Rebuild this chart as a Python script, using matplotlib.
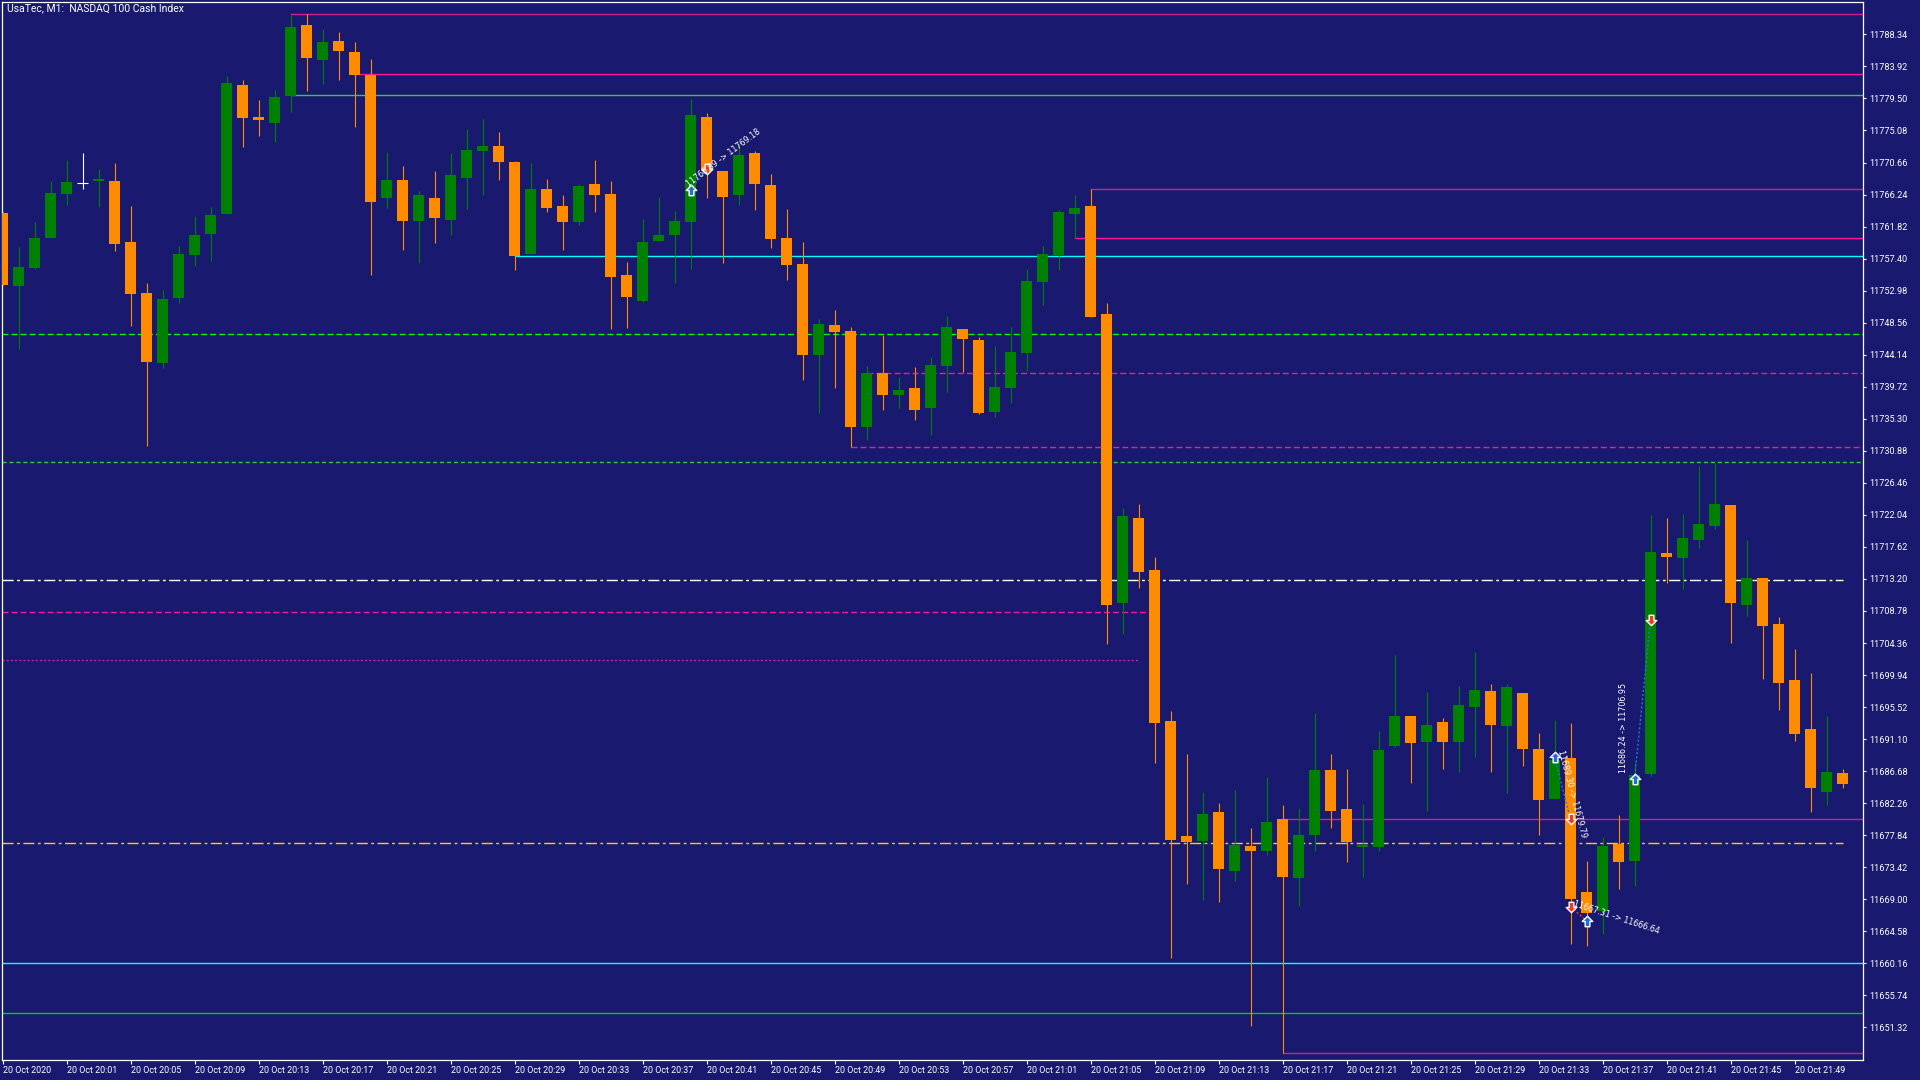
"""MT5 style M1 candlestick chart of the NASDAQ 100 cash index with level lines and trades."""

import numpy as np
import matplotlib
matplotlib.use('Agg')
import matplotlib.pyplot as plt
from matplotlib.path import Path

# Candle data, one minute bars from 19:57 to 21:52
opens = [11763.74, 11753.66, 11756.15, 11760.29, 11766.36, 11767.88, 11768.15, 11768.11, 11759.69, 11752.66,
         11743.00, 11752.01, 11757.90, 11760.84, 11763.60, 11781.36, 11776.94, 11776.12, 11779.88, 11789.64,
         11784.81, 11787.43, 11785.91, 11782.78, 11765.81, 11768.25, 11762.63, 11765.77, 11762.77, 11768.57,
         11772.29, 11772.94, 11770.73, 11758.08, 11767.01, 11764.66, 11762.50, 11767.70, 11766.32, 11755.14,
         11751.59, 11759.87, 11760.70, 11762.50, 11776.94, 11769.49, 11766.22, 11771.98, 11767.56, 11760.25,
         11756.66, 11744.14, 11748.24, 11747.41, 11734.21, 11741.62, 11738.62, 11739.55, 11736.83, 11742.62,
         11747.69, 11746.17, 11736.28, 11739.59, 11744.42, 11754.22, 11757.90, 11763.60, 11764.66, 11749.76,
         11709.94, 11721.62, 11714.43, 11693.58, 11677.71, 11677.02, 11681.02, 11672.93, 11676.33, 11675.69,
         11680.08, 11672.00, 11677.92, 11686.83, 11681.46, 11676.28, 11676.23, 11690.13, 11694.27, 11690.72,
         11693.44, 11690.72, 11695.55, 11697.72, 11692.95, 11697.46, 11689.73, 11682.87, 11688.49, 11669.99,
         11667.42, 11676.62, 11674.32, 11686.32, 11716.78, 11716.13, 11718.61, 11720.55, 11723.40, 11709.64,
         11713.33, 11706.98, 11699.25, 11692.49, 11683.84, 11686.42]
highs = [11763.90, 11759.00, 11762.45, 11768.11, 11771.01, 11771.93, 11769.77, 11770.60, 11764.66, 11754.04,
         11753.07, 11759.14, 11763.28, 11764.52, 11782.60, 11782.05, 11779.29, 11780.67, 11791.02, 11791.12,
         11789.09, 11788.67, 11787.29, 11784.95, 11772.11, 11770.18, 11766.73, 11769.49, 11771.98, 11775.29,
         11776.67, 11774.87, 11770.87, 11770.60, 11768.39, 11766.18, 11767.70, 11771.01, 11768.11, 11756.93,
         11762.87, 11765.90, 11763.97, 11779.43, 11777.50, 11769.49, 11773.26, 11772.25, 11769.08, 11764.25,
         11759.69, 11749.07, 11750.31, 11747.96, 11742.58, 11746.90, 11741.06, 11742.44, 11743.82, 11749.48,
         11747.69, 11746.54, 11745.34, 11747.96, 11755.97, 11759.14, 11764.11, 11766.18, 11766.97, 11751.28,
         11723.05, 11723.55, 11716.21, 11694.96, 11689.05, 11683.78, 11682.29, 11684.07, 11678.89, 11685.85,
         11682.00, 11681.60, 11694.71, 11689.05, 11686.98, 11682.15, 11692.20, 11702.70, 11694.27, 11697.58,
         11694.02, 11698.41, 11703.10, 11698.71, 11698.70, 11697.46, 11691.94, 11693.73, 11693.32, 11674.27,
         11677.58, 11680.62, 11688.00, 11722.02, 11721.61, 11722.16, 11728.78, 11729.20, 11723.40, 11718.57,
         11713.33, 11707.94, 11703.53, 11700.22, 11694.28, 11686.97]
lows = [11753.76, 11744.97, 11755.93, 11760.29, 11764.84, 11767.05, 11764.57, 11758.49, 11748.14, 11731.58,
        11742.35, 11751.32, 11756.42, 11757.11, 11763.60, 11772.85, 11774.36, 11773.54, 11777.68, 11780.57,
        11781.54, 11782.09, 11775.61, 11755.18, 11764.43, 11758.63, 11756.84, 11759.60, 11760.70, 11764.29,
        11766.18, 11768.29, 11755.87, 11758.08, 11763.88, 11758.63, 11762.08, 11763.88, 11747.73, 11747.87,
        11751.46, 11759.87, 11754.08, 11756.01, 11765.81, 11756.84, 11764.84, 11764.15, 11758.91, 11754.49,
        11740.69, 11736.14, 11739.59, 11731.40, 11732.41, 11736.55, 11736.83, 11735.17, 11733.10, 11739.04,
        11741.75, 11736.00, 11735.59, 11737.52, 11741.93, 11751.04, 11755.87, 11760.20, 11749.39, 11704.27,
        11705.61, 11712.01, 11687.86, 11660.95, 11671.15, 11668.95, 11668.64, 11671.55, 11651.54, 11675.10,
        11647.78, 11668.10, 11675.69, 11678.89, 11674.16, 11672.09, 11675.69, 11689.99, 11685.10, 11681.21,
        11687.02, 11686.58, 11688.65, 11686.58, 11683.72, 11687.42, 11677.90, 11682.87, 11662.86, 11662.58,
        11664.24, 11670.45, 11670.86, 11686.05, 11712.68, 11711.85, 11717.51, 11720.13, 11704.40, 11708.12,
        11699.43, 11695.15, 11690.87, 11681.08, 11682.04, 11684.39]
closes = [11753.76, 11756.24, 11760.25, 11766.46, 11767.97, 11767.88, 11768.35, 11759.42, 11752.52, 11743.18,
          11751.83, 11758.04, 11760.66, 11763.42, 11781.64, 11776.85, 11776.57, 11779.70, 11789.36, 11785.13,
          11787.29, 11786.05, 11782.78, 11765.26, 11768.25, 11762.63, 11766.18, 11763.05, 11768.94, 11772.39,
          11772.94, 11770.78, 11757.80, 11767.01, 11764.43, 11762.50, 11767.42, 11766.18, 11754.91, 11752.15,
          11759.69, 11760.66, 11762.59, 11777.22, 11769.53, 11765.95, 11771.70, 11767.74, 11760.15, 11756.56,
          11744.14, 11748.38, 11747.32, 11734.21, 11741.62, 11738.62, 11739.27, 11736.55, 11742.72, 11747.96,
          11746.31, 11736.14, 11739.68, 11744.51, 11754.31, 11758.04, 11763.83, 11764.39, 11749.39, 11709.60,
          11721.87, 11714.18, 11693.33, 11677.23, 11676.92, 11680.77, 11673.22, 11676.48, 11675.69, 11679.64,
          11672.09, 11677.86, 11686.83, 11681.21, 11676.88, 11676.35, 11689.59, 11694.27, 11690.57, 11693.04,
          11690.72, 11695.80, 11697.87, 11693.10, 11698.28, 11689.77, 11682.73, 11688.21, 11669.07, 11667.14,
          11676.34, 11674.18, 11686.14, 11716.91, 11716.27, 11718.85, 11720.78, 11723.54, 11709.92, 11713.33,
          11706.74, 11698.88, 11691.84, 11684.39, 11686.55, 11684.94]

# Time axis labels, one every 4 bars
time_labels = ['20 Oct 2020', '20 Oct 20:01', '20 Oct 20:05', '20 Oct 20:09', '20 Oct 20:13', '20 Oct 20:17',
               '20 Oct 20:21', '20 Oct 20:25', '20 Oct 20:29', '20 Oct 20:33', '20 Oct 20:37', '20 Oct 20:41',
               '20 Oct 20:45', '20 Oct 20:49', '20 Oct 20:53', '20 Oct 20:57', '20 Oct 21:01', '20 Oct 21:05',
               '20 Oct 21:09', '20 Oct 21:13', '20 Oct 21:17', '20 Oct 21:21', '20 Oct 21:25', '20 Oct 21:29',
               '20 Oct 21:33', '20 Oct 21:37', '20 Oct 21:41', '20 Oct 21:45', '20 Oct 21:49']
price_ticks = [11651.32, 11655.74, 11660.16, 11664.58, 11669.00, 11673.42, 11677.84, 11682.26, 11686.68,
               11691.10, 11695.52, 11699.94, 11704.36, 11708.78, 11713.20, 11717.62, 11722.04, 11726.46,
               11730.88, 11735.30, 11739.72, 11744.14, 11748.56, 11752.98, 11757.40, 11761.82, 11766.24,
               11770.66, 11775.08, 11779.50, 11783.92, 11788.34]

# Horizontal levels: price, first bar (None = left edge), last bar (None = right edge)
level_prices = [11791.10, 11782.88, 11779.94, 11766.97, 11760.20, 11757.80, 11746.96, 11741.58, 11731.37,
                11729.29, 11713.00, 11708.57, 11701.96, 11680.03, 11676.83, 11660.20, 11653.37, 11647.78]
level_start = [18, 22, 18, 68, 67, 32, None, 54, 53, None, None, None, None, 80, None, None, None, 80]
level_end = [None, None, None, None, None, None, None, None, None, None, 115, 72, 71, None, 115, None, None, None]

# Closed trades: entry bar/price, exit bar/price, comment
trade_bars = [(43, 44), (97, 98), (98, 99), (102, 103)]
trade_prices = [(11766.87, 11769.81), (11688.59, 11680.03), (11667.98, 11666.04), (11685.59, 11707.53)]
trade_side = ['buy', 'buy', 'sell', 'buy']
trade_text = ['11766.89 -> 11769.18', '11689.30 -> 11679.79', '11667.31 -> 11666.64', '11686.24 -> 11706.95']

BG = '#191970'
BULL = '#008000'
BEAR = '#FF8C00'
PINK = '#FF1493'
VIOLET = '#D02090'

level_styles = [
    dict(color=VIOLET, ls='-'), dict(color=PINK, ls='-'), dict(color='#32CD32', ls='-'),
    dict(color=VIOLET, ls='-'), dict(color=PINK, ls='-'), dict(color='#00FFFF', ls='-'),
    dict(color='#00FF00', ls=(0, (4.3, 2.2))), dict(color=PINK, ls=(0, (4.3, 2.2))),
    dict(color=PINK, ls=(0, (4.3, 2.2))), dict(color='#32CD32', ls=(0, (3, 2))),
    dict(color='white', ls=(0, (8, 2.5, 2, 2.5))), dict(color=PINK, ls=(0, (4.3, 2.2))),
    dict(color=VIOLET, ls=(0, (1.5, 1.5))), dict(color=VIOLET, ls='-'),
    dict(color='#FFCC00', ls=(0, (8, 2.5, 2, 2.5))), dict(color='#00FFFF', ls='-'),
    dict(color='#00CC00', ls='-'), dict(color=VIOLET, ls='-'),
]

LABEL_FONT = ['Roboto', 'DejaVu Sans']

# Block arrow markers like the MT5 trade icons
ARROW_UP = Path([(0, 1), (1, 0), (0.45, 0), (0.45, -1), (-0.45, -1), (-0.45, 0), (-1, 0), (0, 1)], closed=True)
ARROW_DOWN = Path([(0, -1), (1, 0), (0.45, 0), (0.45, 1), (-0.45, 1), (-0.45, 0), (-1, 0), (0, -1)], closed=True)

W, H = 1920, 1080
fig = plt.figure(figsize=(W / 100, H / 100), dpi=100, facecolor=BG)
# plot frame from x=2..1863 px, y=2..1060 px (from top)
ax = fig.add_axes([2.3 / W, (H - 1060) / H, (1863 - 2.3) / W, (1060 - 2.3) / H])
ax.set_facecolor(BG)

x = np.arange(len(opens))
o = np.array(opens)
hi = np.array(highs)
lo = np.array(lows)
c = np.array(closes)
up = c > o
flat = c == o
colors = np.where(up, BULL, BEAR).astype(object)
colors[flat] = 'white'

# Horizontal levels go under the candles
x_left, x_right = -0.0125, 116.28
for price, start, end, style in zip(level_prices, level_start, level_end, level_styles):
    x0 = x_left if start is None else start
    x1 = x_right if end is None else end
    ax.plot([x0, x1], [price, price], lw=1.0, zorder=1, **style)

# Wicks and bodies
ax.vlines(x, lo, hi, colors=list(colors), linewidth=0.8, zorder=2)
body_lo = np.minimum(o, c)
body_h = np.maximum(np.abs(c - o), 0.15)
ax.bar(x[~flat], body_h[~flat], bottom=body_lo[~flat], width=0.69,
       color=list(colors[~flat]), linewidth=0, zorder=3)
ax.hlines(c[flat], x[flat] - 0.345, x[flat] + 0.345, colors='white', linewidth=0.8, zorder=3)

# Trades: dotted link, arrows, rotated comment
text_pos = [(42.8, 11767.6, 37), (97.35, 11689.6, -75), (98.2, 11668.4, -18), (101.3, 11686.4, 90)]
for (b0, b1), (p0, p1), side, txt, (tx, ty, rot) in zip(trade_bars, trade_prices, trade_side,
                                                           trade_text, text_pos):
    link = '#1E78D2' if side == 'buy' else '#E0401E'
    ax.plot([b0, b1], [p0, p1], color=link, lw=1.0, ls=(0, (1.5, 1.5)), zorder=4)
    entry_mk, exit_mk = (ARROW_UP, ARROW_DOWN) if side == 'buy' else (ARROW_DOWN, ARROW_UP)
    entry_col, exit_col = ('#1E6FD0', '#E8401C') if side == 'buy' else ('#E8401C', '#1E6FD0')
    ax.plot(b0, p0, marker=entry_mk, ms=7.5, mfc=entry_col, mec='white', mew=1.0, zorder=6)
    ax.plot(b1, p1, marker=exit_mk, ms=7.5, mfc=exit_col, mec='white', mew=1.0, zorder=6)
    ax.text(tx, ty, txt, color='white', fontsize=5.8, rotation=rot, rotation_mode='anchor',
            ha='left', va='center', zorder=7)

ax.set_xlim(x_left, x_right)
ax.set_ylim(11646.82, 11792.77)

# Price scale on the right
ax.yaxis.tick_right()
ax.set_yticks(price_ticks)
ax.set_yticklabels(['%.2f' % t for t in price_ticks], family=LABEL_FONT, fontsize=6.6, color='white')
ax.tick_params(axis='y', direction='out', length=2.5, width=0.8, color='white', pad=2)

# Time scale at the bottom
ax.set_xticks(np.arange(0, 4 * len(time_labels), 4))
ax.set_xticklabels(time_labels, family=LABEL_FONT, fontsize=6.4, color='white', ha='left')
ax.tick_params(axis='x', direction='out', length=3, width=0.8, color='white', pad=1)

for spine in ax.spines.values():
    spine.set_color('white')
    spine.set_linewidth(0.9)

fig.text(7 / W, 1 - 3 / H, 'UsaTec, M1:  NASDAQ 100 Cash Index', color='white',
         family=LABEL_FONT, fontsize=7.5, ha='left', va='top')

fig.savefig('out.png', dpi=100, facecolor=BG)
plt.close(fig)
